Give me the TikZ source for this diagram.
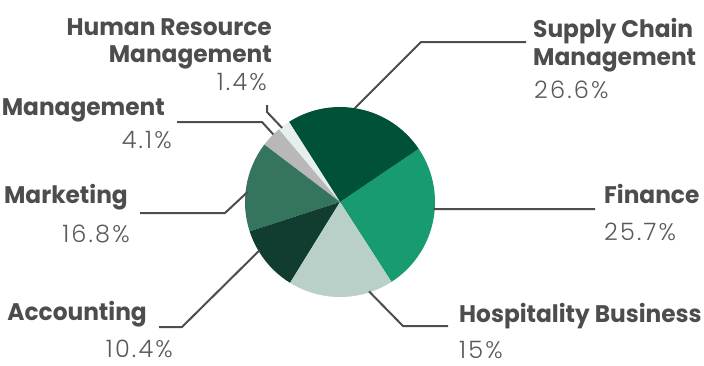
\documentclass[tikz,border=0pt]{standalone}
\usepackage{fontspec}
\setmainfont{Poppins}
\newfontfamily\lblfont{Poppins}[FakeStretch=0.97]
\newfontfamily\lightfont{Poppins Light}[LetterSpace=9]
\definecolor{scmgreen}{HTML}{00513A}
\definecolor{fingreen}{HTML}{189B70}
\definecolor{hospgreen}{HTML}{B9D0C8}
\definecolor{accgreen}{HTML}{113D31}
\definecolor{mktgreen}{HTML}{35755E}
\definecolor{mgmtgray}{HTML}{B8B8BA}
\definecolor{hrmwhite}{HTML}{E6EFEC}
\definecolor{labelgray}{HTML}{4D4D4F}
\definecolor{pctgray}{HTML}{58595B}
\tikzset{
  lbl/.style={inner sep=0pt, text=labelgray, font=\fontsize{24}{28}\selectfont\lblfont\bfseries},
  pct/.style={inner sep=0pt, text=pctgray, font=\fontsize{24}{28}\selectfont\lightfont},
  leader/.style={draw=labelgray, line width=2pt}
}
\begin{document}
\begin{tikzpicture}[x=1pt, y=-1pt]
\useasboundingbox (0,0) rectangle (704,365);
\begin{scope}[shift={(340,202)}, y=1pt]
\coordinate (c) at (0,0);
\fill[fingreen] (c) -- (-57.2:95) arc[start angle=-57.2, end angle=34.1, radius=95] -- cycle;
\fill[scmgreen] (c) -- (34.1:95) arc[start angle=34.1, end angle=122.5, radius=95] -- cycle;
\fill[hrmwhite] (c) -- (122.5:95) arc[start angle=122.5, end angle=130.1, radius=95] -- cycle;
\fill[mgmtgray] (c) -- (130.1:95) arc[start angle=130.1, end angle=142.8, radius=95] -- cycle;
\fill[mktgreen] (c) -- (142.8:95) arc[start angle=142.8, end angle=198, radius=95] -- cycle;
\fill[accgreen] (c) -- (198:95) arc[start angle=198, end angle=238.3, radius=95] -- cycle;
\fill[hospgreen] (c) -- (238.3:95) arc[start angle=238.3, end angle=302.8, radius=95] -- cycle;
\coordinate (scmp) at (81:95);
\coordinate (finp) at (-4.3:94);
\coordinate (hospp) at (-72:94);
\coordinate (accp) at (211:94);
\coordinate (mktp) at (173.8:93);
\coordinate (mgmtp) at (134.6:95);
\coordinate (hrmp) at (128:94);
\end{scope}
\node[lbl, anchor=base west] (scm) at (533,37) {Supply Chain};
\node[lbl, anchor=base west] (scm2) at (533,65) {Management};
\node[pct, anchor=base west] (scmv) at (534,98) {26.6\%};
\node[lbl, anchor=base west] (fin) at (604,203) {Finance};
\node[pct, anchor=base west] (finv) at (604,240) {25.7\%};
\node[lbl, anchor=base west] (hosp) at (459,322) {Hospitality Business};
\node[pct, anchor=base west] (hospv) at (459,358) {15\%};
\node[lbl, anchor=base east] (acc) at (147,320) {Accounting};
\node[pct, anchor=base east] (accv) at (173,357) {10.4\%};
\node[lbl, anchor=base east] (mkt) at (128,203) {Marketing};
\node[pct, anchor=base east] (mktv) at (130,242) {16.8\%};
\node[lbl, anchor=base east] (mgmt) at (165,115) {Management};
\node[pct, anchor=base east] (mgmtv) at (172,148) {4.1\%};
\node[lbl, anchor=base east] (hrm) at (272,35) {Human Resource};
\node[lbl, anchor=base east] (hrm2) at (272,62) {Management};
\node[pct, anchor=base east] (hrmv) at (267,90) {1.4\%};
\coordinate (scme) at (526,42);
\coordinate (fine) at (595,209);
\coordinate (hospe) at (448,326);
\coordinate (acce) at (159,327);
\coordinate (mkte) at (140,213);
\coordinate (mgmte) at (177,122);
\coordinate (hrme) at (267,105);
\draw[leader] (scmp) -- (421,42) -- (scme);
\draw[leader] (finp) -- (fine);
\draw[leader] (hospp) -- (403,326) -- (hospe);
\draw[leader] (accp) -- (182,327) -- (acce);
\draw[leader] (mktp) -- (225,213) -- (mkte);
\draw[leader] (mgmtp) -- (262,122) -- (mgmte);
\draw[leader] (hrmp) -- (267,112) -- (hrme);
\end{tikzpicture}
\end{document}
